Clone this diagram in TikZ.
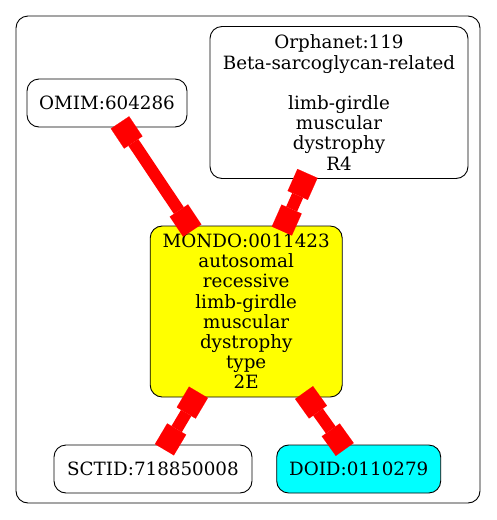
\documentclass[tikz,border=0pt]{standalone}
\usepackage{fontspec}
\setmainfont{DejaVu Serif}
\usetikzlibrary{arrows.meta}
\definecolor{ylw}{RGB}{255,255,0}
\definecolor{cyn}{RGB}{0,255,255}
\definecolor{rd}{RGB}{255,0,0}
\begin{document}
\begin{tikzpicture}[x=1pt,y=-1pt,
  nd/.style={draw=black, rounded corners=12pt, line width=0.9pt, align=center,
    font=\fontsize{18.3}{20.2}\selectfont, inner sep=0pt},
  sq/.tip={Square[length=24pt,width=22pt,line width=0.01pt]},
  lnk/.style={draw=rd, fill=rd, line width=12pt, sq-sq, shorten <=-6pt, shorten >=-6pt}]
\useasboundingbox (0,0) rectangle (496,520);
\draw[rounded corners=12pt, line width=0.9pt] (16,16) rectangle (480,503);
\node[nd, minimum width=160pt, minimum height=48pt] (omim) at (107,103) {OMIM:604286};
\node[nd, minimum width=258pt, minimum height=152pt] (orpha) at (339,102.5)
  {Orphanet:119\\Beta-sarcoglycan-related\\[20.2pt]limb-girdle\\muscular\\dystrophy\\R4};
\node[nd, fill=ylw, minimum width=192pt, minimum height=171pt] (mondo) at (246.2,311.5)
  {MONDO:0011423\\autosomal\\recessive\\limb-girdle\\muscular\\dystrophy\\type\\2E};
\node[nd, minimum width=198pt, minimum height=48pt] (sctid) at (153,469) {SCTID:718850008};
\node[nd, fill=cyn, minimum width=164pt, minimum height=48pt] (doid) at (358.7,469) {DOID:0110279};
\draw[lnk] (omim) -- (mondo);
\draw[lnk] (orpha) -- (mondo);
\draw[lnk] (mondo) -- (sctid);
\draw[lnk] (mondo) -- (doid);
\end{tikzpicture}
\end{document}
